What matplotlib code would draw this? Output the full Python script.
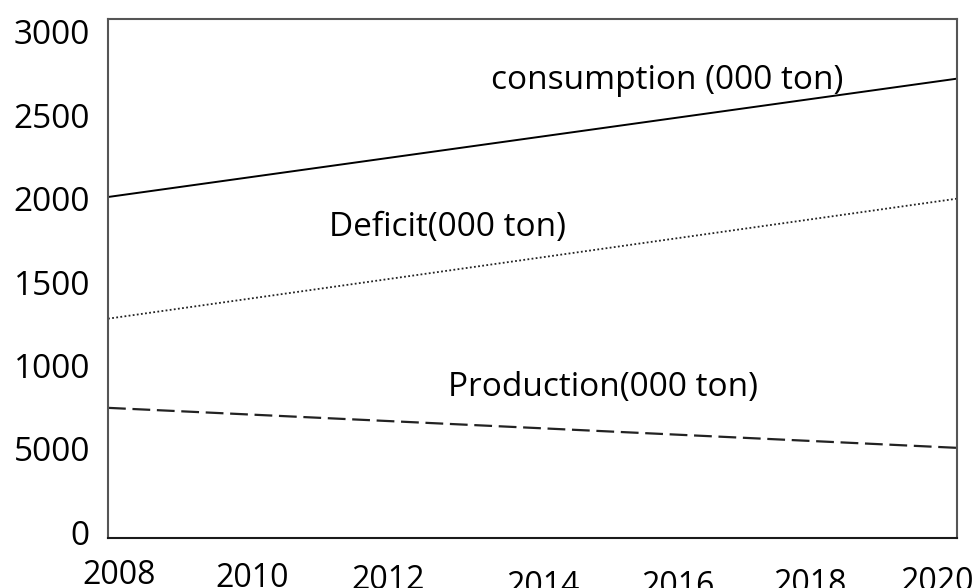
import matplotlib
matplotlib.use("Agg")
import matplotlib.pyplot as plt
import matplotlib.transforms as mtrans

# data
years = [2008, 2020]
consumption = [2010, 2720]
deficit = [1280, 2000]
production = [745, 505]

y_ticks = [0, 500, 1000, 1500, 2000, 2500, 3000]
y_labels = ["0", "5000", "1000", "1500", "2000", "2500", "3000"]  # typo kept as in the source
x_years = [2008, 2010, 2012, 2014, 2016, 2018, 2020]

# label positions (data coords) for the line names
line_labels = ["consumption (000 ton)", "Deficit(000 ton)", "Production(000 ton)"]
label_x = [2015.9, 2012.8, 2015.0]
label_y = [2706, 1826, 870]

# small pixel shifts of the year labels, as they sit in the original
x_dx = [11, 3, -3, 11, 4, -5, -20]
x_dy = [21, 24, 26, 32, 32, 30, 28]

plt.rcParams['font.family'] = ['Open Sans', 'DejaVu Sans']

fig = plt.figure(figsize=(9.75, 5.88), dpi=100)
ax = fig.add_axes([0.1108, 0.085, 0.8707, 0.8827])

ax.plot(years, consumption, color='black', lw=1.4, solid_capstyle='butt')
ax.plot(years, deficit, color='#222222', lw=1.3, linestyle=(0, (1, 1.3)))
ax.plot(years, production, color='#222222', lw=1.6, linestyle=(0, (8, 3)))

for txt, lx, ly in zip(line_labels, label_x, label_y):
    ax.text(lx, ly, txt, ha='center', va='center', fontsize=24, color='black')

ax.set_xlim(2008, 2020)
ax.set_ylim(-36, 3078)

ax.set_yticks(y_ticks)
ax.set_yticklabels(y_labels, fontsize=24)
ax.tick_params(axis='y', length=0, pad=13)

ax.set_xticks([])
trans = ax.get_xaxis_transform()
for yr, dx, dy in zip(x_years, x_dx, x_dy):
    off = mtrans.ScaledTranslation(dx / fig.dpi, -dy / fig.dpi, fig.dpi_scale_trans)
    ax.text(yr, 0, str(yr), transform=trans + off, ha='center', va='top',
            fontsize=23, color='black', clip_on=False)

for side in ['left', 'top', 'right']:
    ax.spines[side].set_color('#555555')
    ax.spines[side].set_linewidth(1.5)
ax.spines['bottom'].set_color('#1a1a1a')
ax.spines['bottom'].set_linewidth(1.5)

fig.savefig("out.png", dpi=100)
